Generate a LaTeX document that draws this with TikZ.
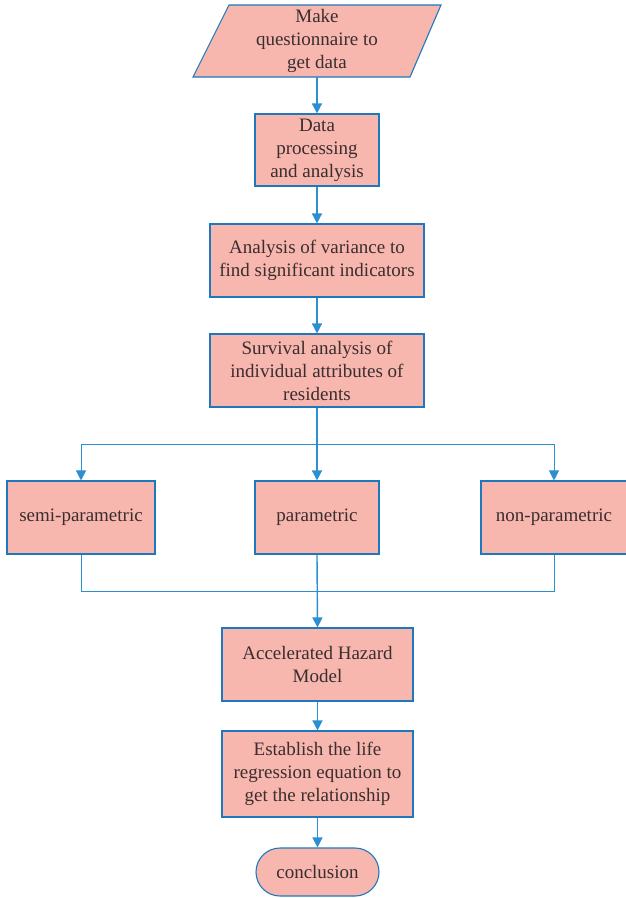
\documentclass[tikz,border=0pt]{standalone}
\usepackage{fontspec}
\setmainfont{Liberation Serif}
\usetikzlibrary{shapes.geometric,shapes.misc,arrows.meta}
\definecolor{boxfill}{HTML}{F7B6AE}
\definecolor{boxline}{HTML}{1F78BE}
\definecolor{conn}{HTML}{2C8FD2}
\definecolor{txt}{HTML}{3A2E2E}
\begin{document}
\begin{tikzpicture}[x=1pt,y=-1pt,
  every node/.style={font=\fontsize{19}{23}\selectfont, text=txt},
  procbox/.style={draw=boxline, fill=boxfill, line width=1.1pt, rectangle, align=center, inner sep=0pt},
  flow/.style={draw=conn, line width=1.4pt, -{Triangle[length=10pt,width=10pt]}},
  branch/.style={draw=conn, line width=1pt}]
\useasboundingbox (0,0) rectangle (626,898);
% parallelogram
\path[procbox] (229,5) -- (441,5) -- (410,77) -- (193,77) -- cycle;
\node[align=center] (p1) at (317,41) {Make\\questionnaire to\\get data};
\coordinate (p1b) at (317,77);
\node[procbox, minimum width=124pt, minimum height=72pt] (b2) at (317,150) {Data\\processing\\and analysis};
\node[procbox, minimum width=214pt, minimum height=73pt] (b3) at (317,260.5) {Analysis of variance to\\find significant indicators};
\node[procbox, minimum width=214pt, minimum height=73pt] (b4) at (317,370.5) {Survival analysis of\\individual attributes of\\residents};
\node[procbox, minimum width=148pt, minimum height=73pt] (s1) at (81,517.5) {semi-parametric};
\node[procbox, minimum width=124pt, minimum height=73pt] (s2) at (317,517.5) {parametric};
\node[procbox, minimum width=146pt, minimum height=73pt] (s3) at (554,517.5) {non-parametric};
\node[procbox, minimum width=191pt, minimum height=73pt] (b5) at (317.5,664.5) {Accelerated Hazard\\Model};
\node[procbox, minimum width=191pt, minimum height=86pt] (b6) at (317.5,774) {Establish the life\\regression equation to\\get the relationship};
\node[procbox, rounded rectangle, minimum width=123pt, minimum height=48pt] (b7) at (317.5,872) {conclusion};
\coordinate (split) at (317,444);
\coordinate (merge) at (317,591);
% connectors
\draw[flow] (p1b) -- (b2.north);
\draw[flow] (b2.south) -- (b3.north);
\draw[flow] (b3.south) -- (b4.north);
\draw[branch] (s1.north |- split) -- (s3.north |- split);
\draw[branch] (s1.south) -- (s1.south |- merge) -- (s3.south |- merge) -- (s3.south);
\draw[flow,line width=1pt] (s1.north |- split) -- (s1.north);
\draw[flow,line width=1pt] (s3.north |- split) -- (s3.north);
\draw[flow] (b4.south) -- (s2.north);
\draw[flow] (s2.south) -- (b5.north);
\draw[flow] (b5.south) -- (b6.north);
\draw[flow] (b6.south) -- (b7.north);
\end{tikzpicture}
\end{document}
